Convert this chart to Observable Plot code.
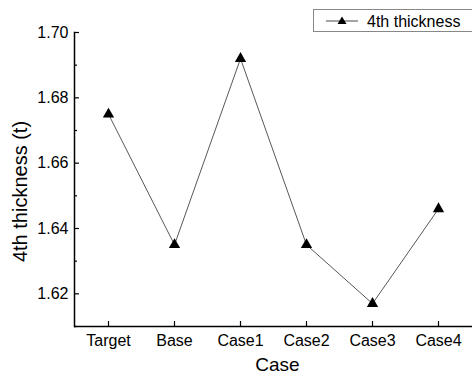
<!DOCTYPE html>
<html><head><meta charset="utf-8">
<script src="https://cdn.jsdelivr.net/npm/d3@7"></script>
<script src="https://cdn.jsdelivr.net/npm/@observablehq/plot@0.6"></script>
<style>
body{margin:0;background:#fff;font-family:"Liberation Sans",Arial,sans-serif;}
#wrap{position:relative;width:472px;height:377px;}
#legend{position:absolute;left:313px;top:9px;width:165px;height:23px;border:1px solid #888;background:#fff;color:#000;box-sizing:border-box;}
</style></head>
<body><div id="wrap"><div id="legend"><svg width="165" height="23" style="position:absolute;left:0;top:0">
<line x1="12" x2="44" y1="11" y2="11" stroke="#333" stroke-width="0.9"/>
<path d="M28,6.5 L32.5,14 L23.5,14 Z" fill="#000"/>
<text x="53" y="17" font-size="16" font-family="Liberation Sans, Arial, sans-serif">4th thickness</text>
</svg></div></div>
<script>
const categories = ["Target","Base","Case1","Case2","Case3","Case4"];
const values = [1.675, 1.635, 1.692, 1.635, 1.617, 1.646];
const majorTicks = [1.62, 1.64, 1.66, 1.68, 1.70];
const minorTicks = [1.61, 1.63, 1.65, 1.67, 1.69];
const data = categories.map((c,i)=>({c, v: values[i]}));

const chart = Plot.plot({
  width: 472, height: 377,
  marginLeft: 74, marginRight: 0, marginTop: 32, marginBottom: 51,
  style: {fontFamily: "Liberation Sans, Arial, sans-serif", fontSize: "16px", color: "#000", background: "#fff"},
  x: {type: "point", domain: categories, padding: 0.5, label: null},
  y: {domain: [1.61, 1.70], label: null},
  marks: [
    Plot.ruleY([1.61], {stroke: "#000", strokeWidth: 1.5}),
    Plot.frame({anchor: "left", stroke: "#000", strokeWidth: 1.5}),
    Plot.axisY(majorTicks, {tickSize: -5, tickPadding: 11, tickFormat: d3.format(".2f"), fontSize: 16, stroke: "#000", strokeWidth: 1.2}),
    Plot.axisY(minorTicks, {tickSize: -3, text: null, stroke: "#000", strokeWidth: 1.2}),
    Plot.axisX({tickSize: -5, tickPadding: 13, fontSize: 16, stroke: "#000", strokeWidth: 1.2}),
    Plot.line(data, {x: "c", y: "v", stroke: "#444", strokeWidth: 0.9}),
    Plot.dot(data, {x: "c", y: "v", symbol: "triangle", r: 4.2, fill: "#000", stroke: "none"}),
    Plot.text(["4th thickness (t)"], {frameAnchor: "left", textAnchor: "middle", dx: -54, dy: 12, rotate: -90, fontSize: 20, fill: "#000"}),
    Plot.text(["Case"], {frameAnchor: "bottom", dy: 44, dx: 4, fontSize: 19, fill: "#000"})
  ]
});
document.getElementById("wrap").prepend(chart);
chart.style.position = "absolute"; chart.style.left = "0"; chart.style.top = "0";
</script>
</body></html>
